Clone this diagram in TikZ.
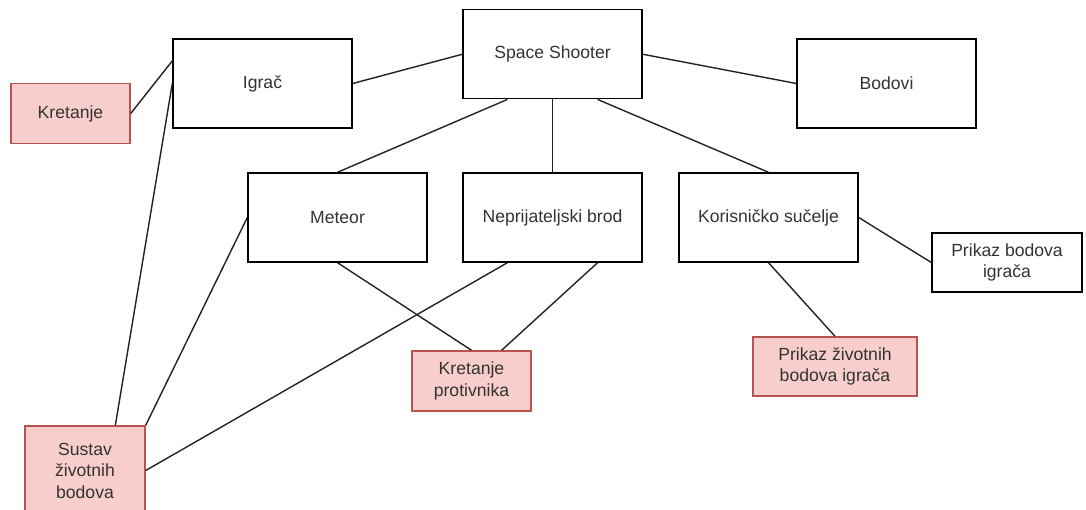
\documentclass[tikz,border=0pt]{standalone}
\usepackage{fontspec}
\setmainfont{Liberation Sans}
\usetikzlibrary{calc}
\definecolor{redfill}{HTML}{F8CECC}
\definecolor{redline}{HTML}{B85450}
\definecolor{txt}{HTML}{333333}
\definecolor{edge}{HTML}{222222}
\begin{document}
\begin{tikzpicture}[x=1pt,y=-1pt,
  box/.style={draw=black, line width=1.4pt, fill=white, rectangle, inner sep=0pt, align=center,
    text=txt, font=\fontsize{17.6}{21.5}\selectfont},
  bigbox/.style={box, minimum width=179pt, minimum height=89pt},
  redbox/.style={box, draw=redline, fill=redfill},
  link/.style={draw=edge, line width=1.4pt}]
\path[use as bounding box] (0,0) rectangle (1086,510);
\clip (0,0) rectangle (1086,510);
\node[bigbox] (ss) at (552.5,54.25) {Space Shooter};
\node[bigbox] (igrac) at (262.5,83.5) {Igrač};
\node[bigbox] (bodovi) at (886.5,83.5) {Bodovi};
\node[redbox, minimum width=119pt, minimum height=60pt] (kret) at (70.5,113.5) {Kretanje};
\node[bigbox] (meteor) at (337.5,217.5) {Meteor};
\node[bigbox] (nepr) at (552.5,217.5) {Neprijateljski brod};
\node[bigbox] (kor) at (768.5,217.5) {Korisničko sučelje};
\node[box, minimum width=150pt, minimum height=59pt] (pbod) at (1007,262.5) {Prikaz bodova\\igrača};
\node[redbox, minimum width=119pt, minimum height=60pt] (kprot) at (471.5,381) {Kretanje\\protivnika};
\node[redbox, minimum width=164pt, minimum height=59pt] (pziv) at (835,366.5) {Prikaz životnih\\bodova igrača};
\node[redbox, minimum width=120pt, minimum height=89pt] (sustav) at (85,470.5) {Sustav\\životnih\\bodova};

\draw[link] (ss.west) -- (igrac.east);
\draw[link] (ss.east) -- (bodovi.west);
\draw[link] (kret.east) -- ($(igrac.north west)!0.25!(igrac.south west)$);
\draw[link] ($(ss.south west)!0.25!(ss.south east)$) -- (meteor.north);
\draw[link] (ss.south) -- (nepr.north);
\draw[link] ($(ss.south west)!0.75!(ss.south east)$) -- (kor.north);
\draw[link] (igrac.west) -- ($(sustav.north west)!0.75!(sustav.north east)$);
\draw[link] (meteor.west) -- (sustav.north east);
\draw[link] ($(nepr.south west)!0.25!(nepr.south east)$) -- (sustav.east);
\draw[link] (meteor.south) -- (kprot.north);
\draw[link] ($(nepr.south west)!0.75!(nepr.south east)$) -- ($(kprot.north west)!0.75!(kprot.north east)$);
\draw[link] (kor.east) -- (pbod.west);
\draw[link] (kor.south) -- (pziv.north);
\end{tikzpicture}
\end{document}
